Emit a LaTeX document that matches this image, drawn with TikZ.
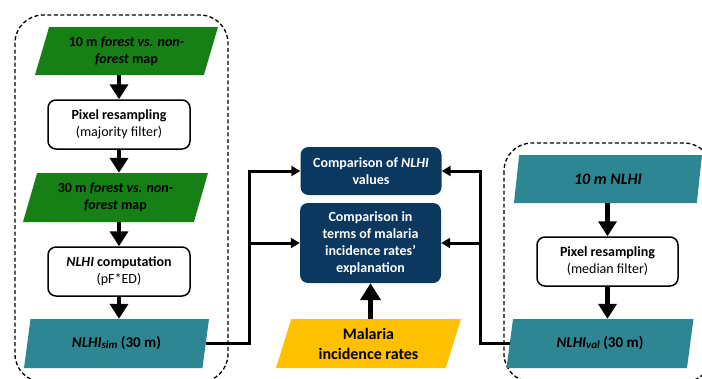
\documentclass[tikz,border=0pt]{standalone}
\usepackage{fontspec}
\setmainfont{Carlito}
\usetikzlibrary{arrows.meta,shapes.geometric,calc}
\definecolor{fgreen}{RGB}{22,128,22}
\definecolor{fteal}{RGB}{46,134,146}
\definecolor{fnavy}{RGB}{12,56,96}
\definecolor{fyellow}{RGB}{255,192,0}
\begin{document}
\begin{tikzpicture}[x=1pt,y=-1pt,
  para/.style={trapezium, trapezium left angle=64, trapezium right angle=116,
    trapezium stretches body, minimum height=49pt, inner sep=0pt, align=center,
    font=\fontsize{14}{17}\selectfont\bfseries, text=black},
  wbox/.style={draw=black, line width=1.5pt, rounded corners=8pt, fill=white,
    minimum width=142pt, minimum height=49pt, align=center, inner sep=0pt,
    font=\fontsize{14}{17}\selectfont},
  nbox/.style={fill=fnavy, rounded corners=8pt, text=white, align=center,
    minimum width=141pt, inner sep=0pt, font=\fontsize{14}{17}\selectfont\bfseries},
  bigarrow/.style={line width=4.5pt, -{Triangle[width=18pt,length=15pt]}},
  conn/.style={line width=3pt, -{Triangle[width=10pt,length=9pt]}},
  dashbox/.style={draw=black, dash pattern=on 4pt off 2.5pt, line width=1.3pt, rounded corners=28pt}
]
\fill[white] (0,0) rectangle (702,378);
\useasboundingbox (0,0) rectangle (702,378);

% dashed groups
\draw[dashbox] (15,15) rectangle (228,382);
\draw[dashbox] (504,143) rectangle (712,382);

% left column
\node[para, fill=fgreen, minimum width=183pt, minimum height=48pt] (g1) at (126.5,51)
  {10 m \textit{forest vs. non-}\\\textit{forest} map};
\node[wbox] (b1) at (119,124.5) {\textbf{Pixel resampling}\\(majority filter)};
\node[para, fill=fgreen, minimum width=185pt] (g2) at (115.5,197.5)
  {30 m \textit{forest vs. non-}\\\textit{forest} map};
\node[wbox] (b2) at (119,271.5) {\textbf{\textit{NLHI} computation}\\(pF*ED)};
\node[para, fill=fteal, minimum width=185pt, font=\fontsize{15}{18}\selectfont\bfseries] (sim) at (116.5,343.5)
  {\textit{NLHI}\raisebox{-0.6pt}{\fontsize{11}{12}\selectfont\textit{sim}} (30 m)};

% middle
\node[nbox, minimum height=48pt] (c1) at (371,171) {Comparison of \textit{NLHI}\\values};
\node[nbox, minimum height=80pt] (c2) at (370.5,243)
  {Comparison in\\terms of malaria\\incidence rates’\\explanation};
\node[para, fill=fyellow, minimum width=185pt, font=\fontsize{16}{20}\selectfont\bfseries] (mal) at (368.5,343.5)
  {Malaria\\incidence rates};

% right column
\node[para, fill=fteal, minimum width=188pt, minimum height=48pt, font=\fontsize{16}{19}\selectfont\bfseries] (n10) at (608,179)
  {\textit{10 m NLHI}};
\node[wbox, minimum width=141pt] (b3) at (607.5,261.5) {\textbf{Pixel resampling}\\(median filter)};
\node[para, fill=fteal, minimum width=187pt, font=\fontsize{15}{18}\selectfont\bfseries] (val) at (600,343.5)
  {\textit{NLHI}\raisebox{-0.6pt}{\fontsize{11}{12}\selectfont\textit{val}} (30 m)};

% vertical arrows
\draw[bigarrow] (g1.south -| b1) -- (b1.north);
\draw[bigarrow] (b1.south) -- (b1.south |- g2.north);
\draw[bigarrow] (g2.south -| b2) -- (b2.north);
\draw[bigarrow] (b2.south) -- (b2.south |- sim.north);
\draw[bigarrow] (n10.south -| b3) -- (b3.north);
\draw[bigarrow] (b3.south) -- (b3.south |- val.north);
\draw[line width=5.5pt, -{Triangle[width=20pt,length=17pt]}] (mal.north -| c2) -- (c2.south);

% connectors
\coordinate (lx) at (249,171);
\coordinate (rx) at (480,171);
\draw[conn] (sim.right side) -| (lx) -- (c1.west);
\draw[conn] (lx |- c2.west) -- (c2.west);
\draw[conn] (val.left side) -| (rx) -- (c1.east);
\draw[conn] (rx |- c2.east) -- (c2.east);
\end{tikzpicture}
\end{document}
